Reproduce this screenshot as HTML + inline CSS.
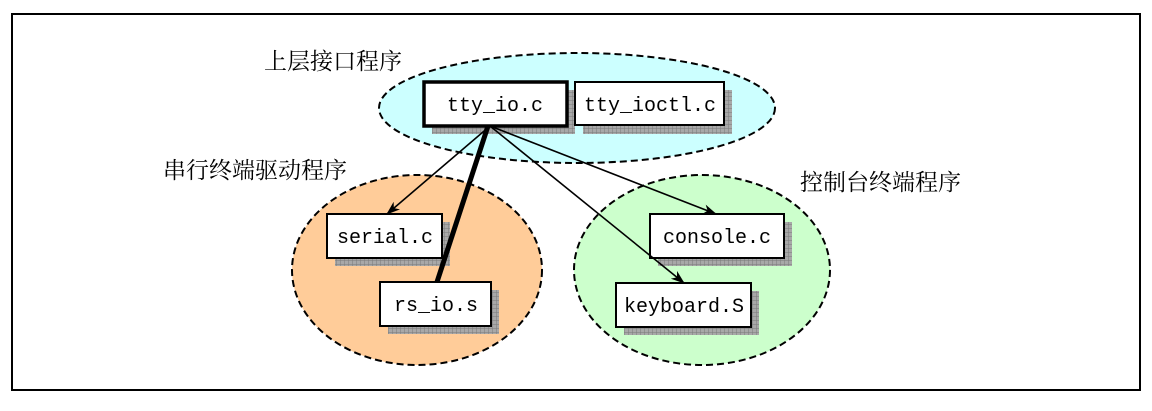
<!DOCTYPE html>
<html><head><meta charset="utf-8"><style>
html,body{margin:0;padding:0;background:#fff}
</style></head><body>
<svg width="1152" height="406" xmlns="http://www.w3.org/2000/svg">
<defs>
<pattern id="g" width="4" height="4" patternUnits="userSpaceOnUse">
<rect width="4" height="4" fill="#a8a8a8"/><path d="M0 0H4M0 0V4" stroke="#7a7a7a" stroke-width="1"/>
</pattern>
<marker id="a" viewBox="0 0 14 10" refX="13" refY="5" markerWidth="14" markerHeight="10" markerUnits="userSpaceOnUse" orient="auto">
<path d="M0 0L14 5L0 10L4 5Z" fill="#000"/>
</marker>
</defs>
<rect x="12" y="14" width="1128" height="376" fill="#fff" stroke="#000" stroke-width="2"/>
<ellipse cx="577" cy="108" rx="198" ry="55" fill="#ccffff" stroke="#000" stroke-width="2" stroke-dasharray="7,4"/>
<ellipse cx="417" cy="270" rx="125" ry="95" fill="#ffcc99" stroke="#000" stroke-width="2" stroke-dasharray="7,4"/>
<ellipse cx="702" cy="270" rx="128" ry="95" fill="#ccffcc" stroke="#000" stroke-width="2" stroke-dasharray="7,4"/>
<g font-family="Liberation Serif, 'Noto Serif CJK SC', serif" font-size="23" fill="#000">
<text x="264" y="69">上层接口程序</text>
<text x="163" y="178">串行终端驱动程序</text>
<text x="800" y="190">控制台终端程序</text>
</g>
<g fill="url(#g)">
<rect x="432" y="90" width="143" height="44"/>
<rect x="583" y="90" width="149" height="44"/>
<rect x="335" y="222" width="115" height="44"/>
<rect x="388" y="290" width="111" height="44"/>
<rect x="658" y="222" width="134" height="44"/>
<rect x="624" y="291" width="135" height="44"/>
</g>
<g fill="#fff" stroke="#000" stroke-width="2">
<rect x="424" y="82" width="143" height="44" stroke-width="3.5"/>
<rect x="575" y="82" width="149" height="43"/>
<rect x="327" y="214" width="115" height="44"/>
<rect x="380" y="282" width="111" height="44"/>
<rect x="650" y="214" width="134" height="44"/>
<rect x="616" y="283" width="135" height="44"/>
</g>
<g stroke="#000" stroke-width="1.6" fill="none" marker-end="url(#a)">
<line x1="490" y1="126" x2="387" y2="214"/>
<line x1="490" y1="126" x2="716" y2="214"/>
<line x1="490" y1="126" x2="684" y2="283"/>
</g>
<line x1="488" y1="126" x2="437" y2="282" stroke="#000" stroke-width="5"/>
<g font-family="Liberation Mono, monospace" font-size="20" fill="#000" text-anchor="middle">
<text x="495" y="111">tty_io.c</text>
<text x="650" y="111">tty_ioctl.c</text>
<text x="385" y="243">serial.c</text>
<text x="436" y="311">rs_io.s</text>
<text x="717" y="243">console.c</text>
<text x="684" y="312">keyboard.S</text>
</g>
</svg>
</body></html>
